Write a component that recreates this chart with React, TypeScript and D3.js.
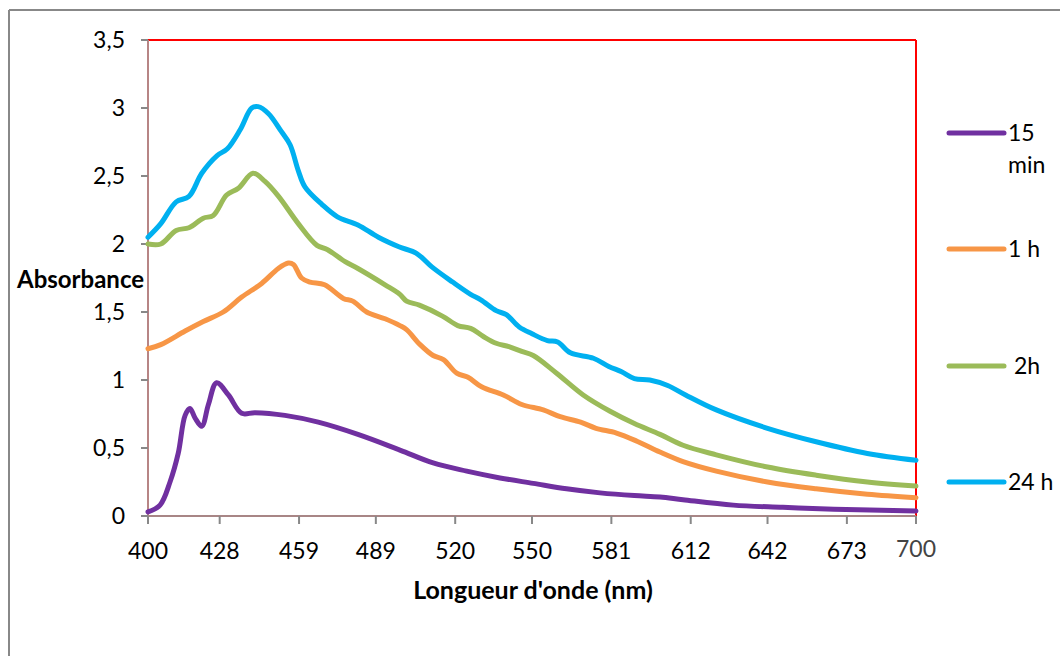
import React from "react";
import * as d3 from "d3";

// wavelength (nm) / absorbance, one pair per series
const wl15min = [400, 404.7, 408.6, 411.8, 414.5, 416.4, 418.4, 421, 423.6, 426.8, 431.4, 436.6, 441.8, 453.5, 466.5, 482, 498.4, 511.4, 524.5, 537.5, 550.5, 563.5, 576.6, 590, 600, 609, 628.6, 648, 668, 700];
const abs15min = [0.03, 0.08, 0.25, 0.46, 0.74, 0.79, 0.72, 0.66, 0.82, 0.98, 0.89, 0.755, 0.76, 0.74, 0.69, 0.6, 0.485, 0.39, 0.33, 0.28, 0.24, 0.2, 0.17, 0.15, 0.14, 0.12, 0.08, 0.064, 0.05, 0.037];

const wl1h = [400, 405, 414.5, 421.6, 429.4, 436.6, 444.4, 450.9, 454.8, 456.8, 460, 463.3, 469, 476.3, 480, 485.4, 492.6, 498.4, 501, 506.3, 511.4, 515.4, 520.6, 525, 530.3, 538.8, 546, 554.4, 561, 569, 575, 583, 591, 600, 609, 622, 642, 661, 681, 700];
const abs1h = [1.23, 1.26, 1.36, 1.43, 1.5, 1.61, 1.71, 1.82, 1.86, 1.85, 1.75, 1.72, 1.7, 1.6, 1.58, 1.5, 1.45, 1.4, 1.37, 1.26, 1.18, 1.15, 1.05, 1.02, 0.95, 0.89, 0.82, 0.78, 0.73, 0.69, 0.645, 0.61, 0.55, 0.47, 0.4, 0.33, 0.25, 0.2, 0.16, 0.135];

const wl2h = [400, 405, 411, 416, 421.6, 425.5, 430.7, 435.3, 441, 445.7, 451, 458.7, 466, 470, 477, 482, 492.6, 498.4, 501, 506, 515, 521, 526, 531, 536, 541, 546, 550.5, 559.6, 570, 580.5, 590, 600, 609, 622, 642, 661, 681, 700];
const abs2h = [2.0, 2.0, 2.1, 2.12, 2.19, 2.21, 2.36, 2.41, 2.52, 2.46, 2.35, 2.15, 1.99, 1.96, 1.87, 1.82, 1.7, 1.63, 1.58, 1.55, 1.47, 1.4, 1.38, 1.32, 1.27, 1.245, 1.21, 1.18, 1.05, 0.89, 0.77, 0.68, 0.6, 0.52, 0.45, 0.36, 0.3, 0.25, 0.22];

const wl24h = [400, 405, 411, 416, 421, 427, 431, 436, 440.5, 443, 447, 452, 455.5, 458.7, 461.3, 468, 474, 482, 490, 498, 505, 511, 519, 526, 530, 536, 540, 545, 550, 556, 560, 565, 574, 580, 585, 590, 596, 603, 610, 622, 642, 661, 681, 700];
const abs24h = [2.05, 2.15, 2.31, 2.35, 2.52, 2.65, 2.7, 2.84, 3.0, 3.01, 2.96, 2.83, 2.73, 2.54, 2.42, 2.29, 2.2, 2.14, 2.05, 1.98, 1.93, 1.83, 1.72, 1.63, 1.59, 1.51, 1.48, 1.39, 1.34, 1.29, 1.28, 1.2, 1.16, 1.1, 1.06, 1.01, 1.0, 0.96, 0.89, 0.78, 0.645, 0.546, 0.46, 0.41];

const seriesNames = ["15 min", "1 h", "2h", "24 h"];
const seriesColors = ["#7030A0", "#F79646", "#9BBB59", "#00B0F0"];

const xTickValues = [400, 428, 459, 489, 520, 550, 581, 612, 642, 673, 700];
const yTickValues = [0, 0.5, 1, 1.5, 2, 2.5, 3, 3.5];
const yTickLabels = ["0", "0,5", "1", "1,5", "2", "2,5", "3", "3,5"];

const font = "Lato, 'Open Sans', sans-serif";

export default function App() {
  const W = 1060;
  const H = 656;
  const plot = { left: 148, right: 916, top: 40, bottom: 516 };

  const x = d3.scaleLinear().domain([400, 700]).range([plot.left, plot.right]);
  const y = d3.scaleLinear().domain([0, 3.5]).range([plot.bottom, plot.top]);

  const line = d3
    .line<[number, number]>()
    .x(d => x(d[0]))
    .y(d => y(d[1]))
    .curve(d3.curveCatmullRom.alpha(0.5));

  const series = [
    d3.zip(wl15min, abs15min),
    d3.zip(wl1h, abs1h),
    d3.zip(wl2h, abs2h),
    d3.zip(wl24h, abs24h),
  ] as [number, number][][];

  const legendY = [133, 249, 366, 482];

  return (
    <svg
      width={W}
      height={H}
      style={{ position: "absolute", left: 0, top: 0, background: "#fff" }}
      fontFamily={font}
    >
      {/* chart frame */}
      <line x1={9} y1={10} x2={W} y2={10} stroke="#888" strokeWidth={2} />
      <line x1={9} y1={10} x2={9} y2={H} stroke="#888" strokeWidth={2} />

      {/* plot border: red top/right */}
      <line x1={plot.left} y1={plot.top} x2={plot.right} y2={plot.top} stroke="#ff0000" strokeWidth={2} />
      <line x1={plot.right} y1={plot.top} x2={plot.right} y2={plot.bottom} stroke="#ff0000" strokeWidth={2} />

      {/* y axis */}
      <line x1={plot.left} y1={plot.top} x2={plot.left} y2={plot.bottom} stroke="#b78585" strokeWidth={2} />
      {yTickValues.map((v, i) => (
        <g key={"y" + i}>
          <line x1={141} x2={plot.left} y1={y(v)} y2={y(v)} stroke="#888" strokeWidth={2} />
          <text x={125} y={y(v)} dy="0.36em" textAnchor="end" fontSize={23} fill="#000">
            {yTickLabels[i]}
          </text>
        </g>
      ))}

      {/* x axis */}
      <line x1={plot.left} y1={plot.bottom} x2={plot.right} y2={plot.bottom} stroke="#a88686" strokeWidth={2} />
      {xTickValues.map((v, i) => (
        <g key={"x" + i}>
          <line x1={x(v)} x2={x(v)} y1={plot.bottom} y2={524} stroke="#888" strokeWidth={2} />
          <text
            x={x(v)}
            y={i === xTickValues.length - 1 ? 557 : 559}
            textAnchor="middle"
            fontSize={23}
            fill={i === xTickValues.length - 1 ? "#444" : "#000"}
          >
            {v}
          </text>
        </g>
      ))}

      {/* series */}
      {series.map((s, i) => (
        <path
          key={"s" + i}
          d={line(s) || ""}
          fill="none"
          stroke={seriesColors[i]}
          strokeWidth={5}
          strokeLinecap="round"
          strokeLinejoin="round"
        />
      ))}

      {/* axis titles */}
      <text x={17} y={288} fontSize={24} fontWeight="bold" fill="#000">
        Absorbance
      </text>
      <text x={533} y={599} textAnchor="middle" fontSize={25} fontWeight="bold" fill="#000">
        Longueur d'onde (nm)
      </text>

      {/* legend */}
      {seriesNames.map((name, i) => (
        <g key={"l" + i}>
          <line
            x1={949}
            x2={1004}
            y1={legendY[i]}
            y2={legendY[i]}
            stroke={seriesColors[i]}
            strokeWidth={5}
            strokeLinecap="round"
          />
          {i === 0 ? (
            <text x={1008} y={legendY[i]} dy="0.36em" fontSize={23} fill="#000">
              <tspan x={1008}>15</tspan>
              <tspan x={1008} dy={32}>min</tspan>
            </text>
          ) : (
            <text x={i === 2 ? 1014 : 1008} y={legendY[i]} dy="0.36em" fontSize={23} fill="#000">
              {name}
            </text>
          )}
        </g>
      ))}
    </svg>
  );
}
